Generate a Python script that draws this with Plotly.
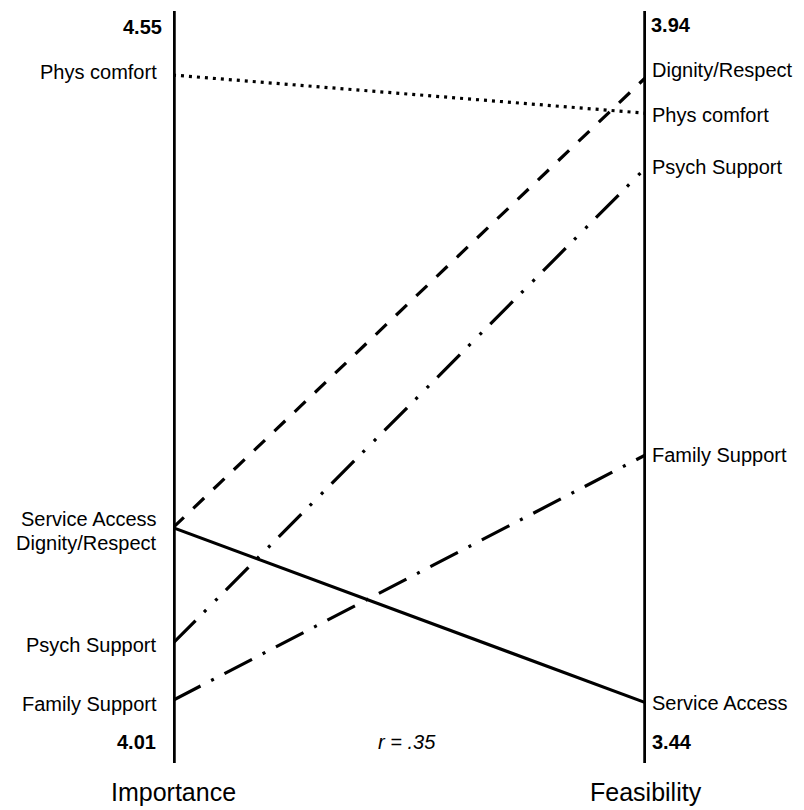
import plotly.graph_objects as go

# ---- data ----
categories = ["Phys comfort", "Service Access", "Dignity/Respect", "Psych Support", "Family Support"]
importance = [4.504, 4.179, 4.179, 4.096, 4.055]
feasibility = [3.872, 3.480, 3.896, 3.836, 3.645]
imp_range = [4.01, 4.55]   # min, max shown on left axis
fea_range = [3.44, 3.94]   # min, max shown on right axis
axis_titles = ["Importance", "Feasibility"]
corr_label = "r = .35"

# ---- styling ----
dashes = {
    "Phys comfort": "3px,5px",
    "Service Access": "solid",
    "Dignity/Respect": "15px,13px",
    "Psych Support": "32px,12px,3px,13px,3px,12px",
    "Family Support": "31px,12px,3px,12px",
}
FONT = "Liberation Sans, Arial, sans-serif"
LBL = 20


def norm(v, rng):
    return (v - rng[0]) / (rng[1] - rng[0])


fig = go.Figure()
for c, a, b in zip(categories, importance, feasibility):
    fig.add_trace(go.Scatter(
        x=[0, 1], y=[norm(a, imp_range), norm(b, fea_range)],
        mode="lines", line=dict(color="black", width=3.2, dash=dashes[c]),
        showlegend=False, hoverinfo="skip", cliponaxis=False))

# vertical axes
for xv in (0, 1):
    fig.add_shape(type="line", xref="x", yref="y", x0=xv, x1=xv, y0=0, y1=1,
                  line=dict(color="black", width=5.5))

ann = []
left_shift = {"Phys comfort": 3, "Service Access": 9, "Dignity/Respect": -15,
              "Psych Support": -2, "Family Support": -4}
right_shift = {"Dignity/Respect": 7, "Phys comfort": -2}
for c, a in zip(categories, importance):
    ann.append(dict(x=0, y=norm(a, imp_range), xref="x", yref="y", text=c,
                    xanchor="right", yanchor="middle", xshift=-14,
                    yshift=left_shift.get(c, 0), showarrow=False,
                    font=dict(size=LBL, family=FONT, color="black")))
for c, b in zip(categories, feasibility):
    ann.append(dict(x=1, y=norm(b, fea_range), xref="x", yref="y", text=c,
                    xanchor="left", yanchor="middle", xshift=4,
                    yshift=right_shift.get(c, 0), showarrow=False,
                    font=dict(size=LBL, family=FONT, color="black")))

# range end labels
bold = dict(size=LBL, family=FONT, color="black")
ann += [
    dict(x=0, y=1, xref="x", yref="y", text=f"<b>{imp_range[1]:.2f}</b>", xanchor="right",
         yanchor="middle", xshift=-9, yshift=-16, showarrow=False, font=bold),
    dict(x=0, y=0, xref="x", yref="y", text=f"<b>{imp_range[0]:.2f}</b>", xanchor="right",
         yanchor="middle", xshift=-15, yshift=21, showarrow=False, font=bold),
    dict(x=1, y=1, xref="x", yref="y", text=f"<b>{fea_range[1]:.2f}</b>", xanchor="left",
         yanchor="middle", xshift=3, yshift=-14, showarrow=False, font=bold),
    dict(x=1, y=0, xref="x", yref="y", text=f"<b>{fea_range[0]:.2f}</b>", xanchor="left",
         yanchor="middle", xshift=4, yshift=21, showarrow=False, font=bold),
    dict(x=0.5, y=0, xref="x", yref="y", text=f"<i>{corr_label}</i>", xanchor="center",
         yanchor="middle", xshift=-3, yshift=21, showarrow=False,
         font=dict(size=LBL, family=FONT, color="black")),
    dict(x=0, y=0, xref="x", yref="y", text=axis_titles[0], xanchor="center",
         yanchor="middle", yshift=-29, showarrow=False,
         font=dict(size=25, family=FONT, color="black")),
    dict(x=1, y=0, xref="x", yref="y", text=axis_titles[1], xanchor="center",
         yanchor="middle", yshift=-29, showarrow=False,
         font=dict(size=25, family=FONT, color="black")),
]

# the page body adds an 8px offset, so the figure is sized to fit the window
fig.update_layout(
    width=796, height=802,
    margin=dict(l=165, r=158, t=3, b=47),
    paper_bgcolor="white", plot_bgcolor="white",
    xaxis=dict(range=[0, 1], visible=False, fixedrange=True),
    yaxis=dict(range=[0, 1], visible=False, fixedrange=True),
    annotations=ann,
    font=dict(family=FONT),
)

fig.write_html("out.html")
